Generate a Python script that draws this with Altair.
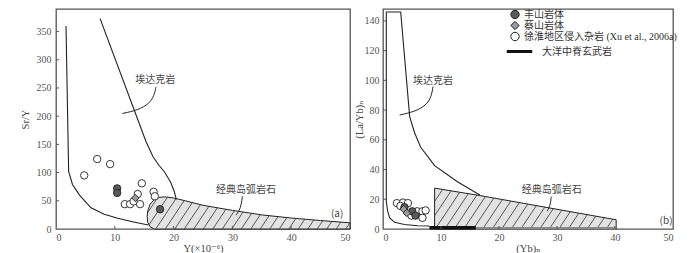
import altair as alt
import numpy as np
import pandas as pd

# ---------------- data ----------------
# panel (a): Sr/Y vs Y
fs_a_x = [10.4, 10.4, 17.7]
fs_a_y = [72, 64, 35]
cs_a_x = [13.5]
cs_a_y = [55]
xh_a_x = [4.8, 7.0, 9.2, 14.6, 16.6, 16.8, 13.9, 11.7, 12.6, 14.3, 13.2]
xh_a_y = [95, 124, 115, 81, 66, 58, 62, 44, 44, 44, 49]

# adakite field boundaries (a)
adk_a_right_x = [20.4, 20.4, 20.1, 19.5, 18.4, 17.5, 16.5, 15.3, 7.5]
adk_a_right_y = [52, 55, 67, 83, 102, 113, 128, 155, 373]
adk_a_left_x = [1.7, 2.15, 2.8, 4.0, 5.95, 8.2, 10.5, 13.0, 15.7]
adk_a_left_y = [360, 102, 79, 60, 37.5, 26, 19, 13, 7]

# classic island arc field (a)
arc_a_x = [15.5, 15.6, 16.0, 16.7, 17.5, 18.5, 20.0, 22.0, 25.0, 30.0, 35.0, 40.0, 45.0, 50.0]
arc_a_top = [22, 32, 44, 52, 56, 57, 55, 50, 42, 33, 25, 19.5, 15, 11]
arc_a_bot = [22, 12, 4, 0, 0, 0, 0, 0, 0, 0, 0, 0, 0, 0]

# panel (b): (La/Yb)N vs (Yb)N
fs_b_x = [3.7, 5.05, 5.6]
fs_b_y = [14.7, 11.9, 9.0]
cs_b_x = [3.56, 4.1]
cs_b_y = [13.4, 10.8]
xh_b_x = [2.4, 3.45, 4.3, 3.0, 5.9, 6.8, 7.35, 6.8, 4.9]
xh_b_y = [17.4, 17.8, 17.4, 15.5, 11.9, 11.9, 12.5, 7.5, 9.0]

adk_b_x = [16.7, 12.9, 8.9, 6.5, 5.46, 4.6, 3.05, 0.57, 0.57, 0.8, 1.15, 2.0, 3.7, 6.0, 8.0]
adk_b_y = [22.9, 31.6, 42.6, 55, 64.6, 75.6, 146, 146, 18.5, 12, 7.5, 4.5, 3.0, 2.2, 2.0]

arc_b_x = [8.9, 16.7, 40.2]
arc_b_top = [27.5, 22.5, 6.2]
arc_b_bot = [0, 0, 0]

morb_x = [8.0, 16.0]
morb_y = [0.8, 0.8]
morb_gray_x = [16.0, 40.2]
morb_gray_y = [0.5, 0.5]

groups = ["丰山岩体", "蔡山岩体", "徐淮地区侵入杂岩 (Xu et al., 2006a)"]

x_ticks = [0, 10, 20, 30, 40, 50]
y_ticks_a = [0, 50, 100, 150, 200, 250, 300, 350]
y_ticks_b = [0, 20, 40, 60, 80, 100, 120, 140]

# ---------------- layout ----------------
W_A, W_B, H = 294, 290, 220
XD = 50
YD_A = 390
YD_B = 148

SERIF = "Liberation Serif"
CJK = "Noto Sans CJK SC"
LINE = "#222222"


def hatch_segments(xs, top, bot, W, yd, step=9.5, slope=1.5):
    poly = list(zip(xs, top)) + list(zip(xs[::-1], bot[::-1]))
    P = np.array([(x / XD * W, y / yd * H) for x, y in poly], dtype=float)
    u = P[:, 0] - P[:, 1] / slope
    rows = []
    n = len(P)
    start = np.floor(u.min() / step) * step + step * 0.5
    for c in np.arange(start, u.max(), step):
        pts = []
        for i in range(n):
            a, b = P[i], P[(i + 1) % n]
            fa, fb = u[i] - c, u[(i + 1) % n] - c
            if (fa < 0) != (fb < 0):
                t = fa / (fa - fb)
                pts.append(a + t * (b - a))
        pts.sort(key=lambda p: p[1])
        for j in range(0, len(pts) - 1, 2):
            p, q = pts[j], pts[j + 1]
            rows.append(dict(x=p[0] / W * XD, y=p[1] / H * yd,
                             x2=q[0] / W * XD, y2=q[1] / H * yd))
    return pd.DataFrame(rows)


def points_df(fx, fy, cx, cy, ox, oy):
    rows = [dict(x=a, y=b, g=groups[2]) for a, b in zip(ox, oy)]
    rows += [dict(x=a, y=b, g=groups[0]) for a, b in zip(fx, fy)]
    rows += [dict(x=a, y=b, g=groups[1]) for a, b in zip(cx, cy)]
    return pd.DataFrame(rows)


def panel(W, yd, y_ticks, ytitle, xtitle, pts, arc, hatch, lines, leaders,
          texts, legend, extra_layers, y_title_pad, y_label_pad):
    xs = alt.Scale(domain=[0, XD], nice=False, zero=False)
    ys = alt.Scale(domain=[0, yd], nice=False, zero=False)
    xax = alt.Axis(values=x_ticks, title=xtitle, format="d", labelPadding=3, titlePadding=1)
    yax = alt.Axis(values=y_ticks, title=ytitle, format="d", labelPadding=y_label_pad,
                   titlePadding=y_title_pad)

    def X(f):
        return alt.X(f, type="quantitative", scale=xs, axis=xax)

    def Y(f):
        return alt.Y(f, type="quantitative", scale=ys, axis=yax)

    area = alt.Chart(arc).mark_area(fill="#e2e2e2", stroke=LINE, strokeWidth=1).encode(
        x=X("x"), y=Y("top"), y2="bot")

    hat = alt.Chart(hatch).mark_rule(color="#333333", strokeWidth=0.8).encode(
        x=X("x"), y=Y("y"), x2="x2", y2="y2")

    bound = alt.Chart(lines).mark_line(color=LINE, strokeWidth=1.1).encode(
        x=X("x"), y=Y("y"), detail="id:N", order="o:Q")

    lead = alt.Chart(leaders).mark_line(color=LINE, strokeWidth=1,
                                        interpolate="basis").encode(
        x=X("x"), y=Y("y"), detail="id:N", order="o:Q")

    txt = alt.Chart(texts).mark_text(fontSize=10, color="#444444", font=CJK + ", " + SERIF
                                     ).encode(x=X("x"), y=Y("y"), text="t:N")

    if legend:
        lg = alt.Legend(title=None, orient="none", legendX=127, legendY=0,
                        labelFont=SERIF + ", " + CJK, labelFontSize=10,
                        labelColor="#333333", symbolSize=70, rowPadding=0,
                        clipHeight=11, symbolStrokeWidth=1,
                        labelOffset=4, padding=0, labelLimit=300)
    else:
        lg = None
    pt = alt.Chart(pts).mark_point(filled=True, size=55, strokeWidth=0.9, opacity=1).encode(
        x=X("x"), y=Y("y"),
        shape=alt.Shape("g:N", scale=alt.Scale(domain=groups,
                                               range=["circle", "diamond", "circle"]),
                        legend=lg),
        fill=alt.Fill("g:N", scale=alt.Scale(domain=groups,
                                             range=["#5a5a5a", "#9a9a9a", "#ffffff"]),
                      legend=lg),
        stroke=alt.Stroke("g:N", scale=alt.Scale(domain=groups,
                                                 range=[LINE, LINE, LINE]),
                          legend=lg),
    )

    xt = alt.Chart(pd.DataFrame({"v": x_ticks[1:-1]})).mark_rule(
        color="#555555", strokeWidth=1).encode(
        x=X("v"), y=alt.value(H), y2=alt.value(H - 3))
    yt = alt.Chart(pd.DataFrame({"v": y_ticks[1:]})).mark_rule(
        color="#555555", strokeWidth=1).encode(
        y=Y("v"), x=alt.value(0), x2=alt.value(3))

    layers = [area, hat] + extra_layers(X, Y) + [bound, lead, pt, txt, xt, yt]
    return alt.layer(*layers).properties(width=W, height=H)


def lines_df(paths):
    rows = []
    for pid, (xs_, ys_) in enumerate(paths):
        for o, (a, b) in enumerate(zip(xs_, ys_)):
            rows.append(dict(x=a, y=b, id=pid, o=o))
    return pd.DataFrame(rows)


# leaders
lead_a = lines_df([
    ([17.0, 16.7, 15.9, 13.9, 11.3], [251.5, 236.9, 222.3, 210.6, 204.8]),
    ([31.7, 31.5, 31.2, 30.6], [58, 43.4, 32.8, 24.6]),
])
lead_b = lines_df([
    ([8.62, 8.33, 7.47, 5.46, 2.87], [95.8, 88.8, 83.3, 78.9, 76.7]),
    ([29.0, 28.9, 28.6, 28.3], [21.8, 17.4, 14.1, 11.9]),
])

texts_a = pd.DataFrame({"x": [16.9, 32.3, 47.8], "y": [264, 68.6, 26.4],
                        "t": ["埃达克岩", "经典岛弧岩石", "(a)"]})
texts_b = pd.DataFrame({"x": [8.6, 29.1, 48.8], "y": [99.6, 26.4, 5.3],
                        "t": ["埃达克岩", "经典岛弧岩石", "(b)"]})

arc_a = pd.DataFrame({"x": arc_a_x, "top": arc_a_top, "bot": arc_a_bot})
arc_b = pd.DataFrame({"x": arc_b_x, "top": arc_b_top, "bot": arc_b_bot})


def no_extra(X, Y):
    return []


def morb_layers(X, Y):
    gray = alt.Chart(pd.DataFrame({"x": morb_gray_x, "y": morb_gray_y})).mark_line(
        color="#8a8a8a", strokeWidth=2.5).encode(x=X("x"), y=Y("y"))
    blk = alt.Chart(pd.DataFrame({"x": morb_x, "y": morb_y,
                                  "n": ["大洋中脊玄武岩"] * 2})).mark_line(
        strokeWidth=3.5).encode(
        x=X("x"), y=Y("y"),
        color=alt.Color("n:N", scale=alt.Scale(domain=["大洋中脊玄武岩"], range=["#111111"]),
                        legend=alt.Legend(title=None, orient="none", legendX=122, legendY=28,
                                          labelFont=CJK, labelFontSize=10,
                                          labelColor="#333333", symbolType="stroke",
                                          symbolSize=650, symbolStrokeWidth=3,
                                          labelOffset=8, padding=0)))
    return [gray, blk]


chart_a = panel(W_A, YD_A, y_ticks_a, "Sr/Y", "Y(×10⁻⁶)",
                points_df(fs_a_x, fs_a_y, cs_a_x, cs_a_y, xh_a_x, xh_a_y),
                arc_a, hatch_segments(arc_a_x, arc_a_top, arc_a_bot, W_A, YD_A),
                lines_df([(adk_a_right_x, adk_a_right_y), (adk_a_left_x, adk_a_left_y)]),
                lead_a, texts_a, False, no_extra, 6, 5)

chart_b = panel(W_B, YD_B, y_ticks_b, "(La/Yb)ₙ", "(Yb)ₙ",
                points_df(fs_b_x, fs_b_y, cs_b_x, cs_b_y, xh_b_x, xh_b_y),
                arc_b, hatch_segments(arc_b_x, arc_b_top, arc_b_bot, W_B, YD_B),
                lines_df([(adk_b_x, adk_b_y)]),
                lead_b, texts_b, True, morb_layers, 0, 4)

chart = alt.hconcat(chart_a, chart_b, spacing=0).resolve_scale(
    x="independent", y="independent", shape="independent", fill="independent",
    stroke="independent", color="independent").properties(
    padding={"left": 11, "top": 0, "right": 0, "bottom": 0}
).configure_axis(
    labelFont=SERIF, labelFontSize=10, labelColor="#555555",
    titleFont=SERIF + ", DejaVu Serif", titleFontSize=10.5, titleColor="#444444",
    titleFontWeight="normal", grid=False, ticks=False, tickSize=0, domain=False,
).configure_view(stroke="#555555", strokeWidth=1.3).configure_legend(
    labelFontWeight="normal")

chart.save("out.html", embed_options={"renderer": "svg", "actions": False})
